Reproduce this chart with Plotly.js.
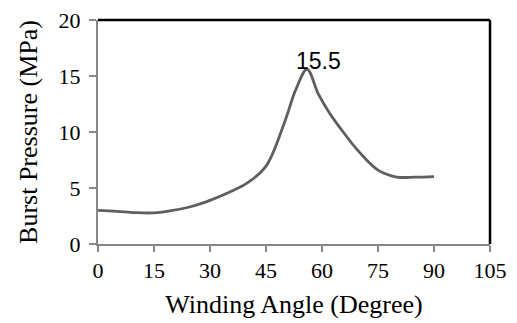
<!DOCTYPE html>
<html>
<head>
<meta charset="utf-8">
<script src="https://cdn.plot.ly/plotly-3.0.1.min.js"></script>
<style>html,body{margin:0;padding:0;background:#fff;}#chart{width:517px;height:323px;}</style>
</head>
<body>
<div id="chart"></div>
<script>
var windingAngle = [0, 5, 10, 15, 20, 25, 30, 35, 40, 45, 50, 53, 56, 59, 62, 65, 70, 75, 80, 85, 90];
var burstPressure = [3.0, 2.92, 2.8, 2.78, 3.0, 3.35, 3.9, 4.6, 5.45, 6.95, 10.9, 13.8, 15.6, 13.4, 11.7, 10.3, 8.2, 6.6, 5.98, 5.97, 6.02];
var peakLabel = "15.5";
var peakAngle = 56;
var peakValue = 15.6;
var xTicks = [0, 15, 30, 45, 60, 75, 90, 105];
var yTicks = [0, 5, 10, 15, 20];

var trace = {
  x: windingAngle,
  y: burstPressure,
  type: 'scatter',
  mode: 'lines',
  line: {color: '#5f5f5f', width: 2.8, shape: 'spline', smoothing: 1},
  hoverinfo: 'skip'
};

var serif = 'Liberation Serif, Times New Roman, serif';
var layout = {
  width: 517, height: 323,
  margin: {l: 98, r: 27, t: 20, b: 79, pad: 0},
  paper_bgcolor: '#fff', plot_bgcolor: '#fff',
  showlegend: false,
  font: {family: serif, size: 22, color: '#000'},
  xaxis: {
    range: [0, 105], tickvals: xTicks, ticktext: xTicks.map(String),
    showgrid: false, zeroline: false, showline: true, linecolor: '#868686', linewidth: 2,
    ticks: 'outside', ticklen: 6, tickwidth: 1.5, tickcolor: '#868686',
    tickfont: {family: serif, size: 22, color: '#000'},
    title: {text: 'Winding Angle (Degree)', font: {family: serif, size: 26, color: '#000'}, standoff: 12}
  },
  yaxis: {
    range: [0, 20], tickvals: yTicks, ticktext: yTicks.map(String),
    showgrid: false, zeroline: false, showline: true, linecolor: '#868686', linewidth: 2,
    ticks: 'outside', ticklen: 7, tickwidth: 1.5, tickcolor: '#868686',
    ticklabelstandoff: 4,
    tickfont: {family: serif, size: 22, color: '#000'},
    title: {text: 'Burst Pressure (MPa)', font: {family: serif, size: 26, color: '#000'}, standoff: 13}
  },
  shapes: [
    {type: 'line', xref: 'paper', yref: 'paper', x0: 0, x1: 1, y0: 1, y1: 1, line: {color: '#000', width: 2.5}},
    {type: 'line', xref: 'paper', yref: 'paper', x0: 1, x1: 1, y0: 0, y1: 1, line: {color: '#000', width: 2.5}}
  ],
  annotations: [{
    x: peakAngle, y: peakValue, xref: 'x', yref: 'y',
    text: peakLabel, showarrow: false,
    xanchor: 'center', yanchor: 'bottom', xshift: 11, yshift: -7,
    font: {family: 'Liberation Sans, Arial, sans-serif', size: 23, color: '#000'}
  }]
};

Plotly.newPlot('chart', [trace], layout, {staticPlot: true, displayModeBar: false});
</script>
</body>
</html>
